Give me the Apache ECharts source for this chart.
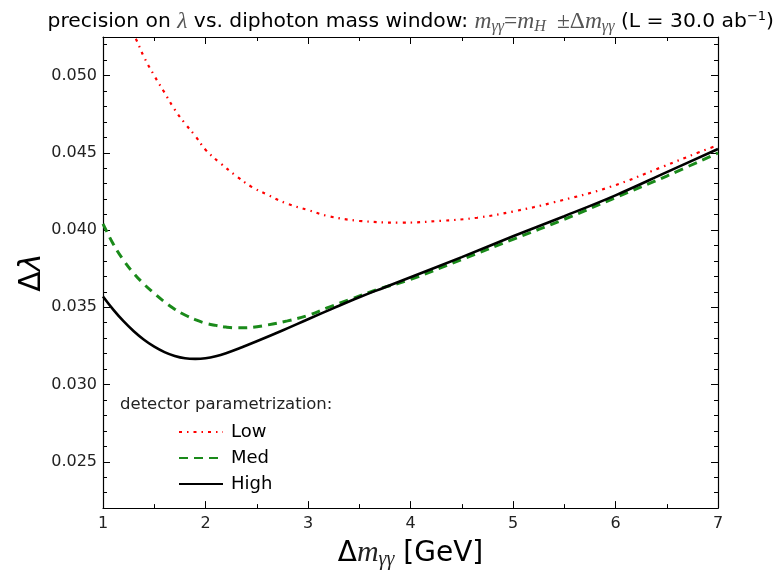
<!DOCTYPE html>
<html>
<head>
<meta charset="utf-8">
<script src="https://cdn.jsdelivr.net/npm/echarts@6/dist/echarts.min.js"></script>
<style>html,body{margin:0;padding:0;background:#fff;}#c{width:777px;height:575px;}</style>
</head>
<body>
<div id="c"></div>
<script>
// ---- data ----
const lowX  = [1.0, 1.1, 1.2, 1.32, 1.4, 1.5, 1.6, 1.7, 1.8, 1.9, 2.0, 2.15, 2.3, 2.45, 2.6, 2.8, 3.0, 3.2, 3.5, 3.9, 4.3, 4.65, 5.0, 5.4, 5.95, 6.46, 6.82, 7.0];
const lowY  = [0.0576, 0.0557, 0.0540, 0.0524, 0.0512, 0.0500, 0.0489, 0.0478, 0.0469, 0.0461, 0.0452, 0.0443, 0.0435, 0.0428, 0.0423, 0.0417, 0.0413, 0.0409, 0.0406, 0.04048, 0.0406, 0.0408, 0.0412, 0.0418, 0.0428, 0.0441, 0.04505, 0.0455];
const medX  = [1.0, 1.1, 1.2, 1.3, 1.4, 1.5, 1.6, 1.7, 1.8, 1.9, 2.0, 2.1, 2.2, 2.3, 2.4, 2.6, 2.8, 3.0, 3.2, 3.4, 3.7, 4.0, 4.5, 5.0, 5.5, 6.0, 6.5, 7.0];
const medY  = [0.0404, 0.0391, 0.03805, 0.0372, 0.0365, 0.0359, 0.03535, 0.03488, 0.0345, 0.0342, 0.03397, 0.03383, 0.03372, 0.03367, 0.03368, 0.03385, 0.03412, 0.03448, 0.0350, 0.03548, 0.0362, 0.0368, 0.0381, 0.0394, 0.0407, 0.0421, 0.0435, 0.0450];
const highX = [1.0, 1.1, 1.2, 1.3, 1.4, 1.5, 1.6, 1.7, 1.8, 1.9, 2.0, 2.1, 2.2, 2.35, 2.5, 2.75, 3.0, 3.25, 3.5, 3.75, 4.0, 4.5, 5.0, 5.5, 6.0, 6.5, 7.0];
const highY = [0.0357, 0.03485, 0.0341, 0.03345, 0.0329, 0.03245, 0.0321, 0.03185, 0.0317, 0.03166, 0.0317, 0.03183, 0.03203, 0.0324, 0.0328, 0.0335, 0.03423, 0.03495, 0.03565, 0.0363, 0.03695, 0.03825, 0.0396, 0.0409, 0.04225, 0.04375, 0.04525];
const seriesNames = ['Low', 'Med', 'High'];
const yMajorTicks = [0.025, 0.030, 0.035, 0.040, 0.045, 0.050];
const xMin = 1, xMax = 7;
const yMin = 0.022, yMax = 0.0525;

const zip = (xs, ys) => xs.map((x, i) => [x, ys[i]]);
const yMinorTicks = [];
for (let k = 22; k <= 52; k++) yMinorTicks.push(k / 1000);

const chart = echarts.init(document.getElementById('c'), null, {renderer: 'canvas'});
const sans = 'DejaVu Sans';
const serif = 'Liberation Serif';
const axisLineStyle = {color: '#000', width: 1.2};

const yBase = {type: 'value', min: yMin, max: yMax, splitLine: {show: false}};
const xBase = {type: 'value', min: xMin, max: xMax, interval: 1, splitLine: {show: false}};

chart.setOption({
  animation: false,
  backgroundColor: '#fff',
  title: {
    right: -2, top: 4,
    text: '{t|precision on }{mi|λ}{t| vs. diphoton mass window: }{mi|m}{sub|γγ}{mr|=}{mi|m}{sub|H}{pm|±Δ}{mi|m}{sub|γγ}{t| (L = 30.0 ab}{sup|−1}{t|)}',
    textStyle: {
      fontWeight: 'normal',
      rich: {
        t: {fontFamily: sans, fontSize: 20.3, fontWeight: 'normal', color: '#000', lineHeight: 25},
        mi: {fontFamily: serif, fontStyle: 'italic', fontSize: 23.5, color: '#555', lineHeight: 25},
        mr: {fontFamily: serif, fontSize: 23.5, color: '#555', lineHeight: 25},
        pm: {fontFamily: serif, fontSize: 23.5, color: '#555', lineHeight: 25, padding: [0, 0, 0, 11]},
        sub: {fontFamily: serif, fontStyle: 'italic', fontSize: 16, color: '#555', lineHeight: 16, padding: [10, 0, 0, 0]},
        sup: {fontFamily: sans, fontSize: 13, fontWeight: 'normal', color: '#000', lineHeight: 13, padding: [0, 0, 10, 0]}
      }
    }
  },
  grid: {left: 103, right: 59, top: 37, bottom: 61, containLabel: false},
  legend: {
    orient: 'vertical', left: 173, top: 418,
    itemWidth: 44, itemHeight: 14, itemGap: 8,
    data: seriesNames,
    itemStyle: {color: 'rgba(0,0,0,0)', borderWidth: 0, opacity: 0},
    textStyle: {fontFamily: sans, fontSize: 18, color: '#000', padding: [0, 0, 0, 3]}
  },
  graphic: [{
    type: 'text', left: 120, top: 396,
    style: {text: 'detector parametrization:', font: '16.5px "DejaVu Sans"', fill: '#222'}
  }],
  xAxis: [
    Object.assign({}, xBase, {
      position: 'bottom',
      axisLine: {show: true, onZero: false, lineStyle: axisLineStyle},
      axisTick: {show: true, inside: true, length: 7, lineStyle: {color: '#000'}},
      minorTick: {show: true, splitNumber: 2, length: 4, lineStyle: {color: '#000'}},
      axisLabel: {fontFamily: sans, fontSize: 16, color: '#222', margin: 8},
      name: '{d|Δ}{mi|m}{sub|γγ}{t| [GeV]}',
      nameLocation: 'middle', nameGap: 21,
      nameTextStyle: {
        rich: {
          d: {fontFamily: sans, fontSize: 28, color: '#000', lineHeight: 32},
          mi: {fontFamily: serif, fontStyle: 'italic', fontSize: 30, color: '#222', lineHeight: 32},
          sub: {fontFamily: serif, fontStyle: 'italic', fontSize: 20, color: '#222', lineHeight: 20, padding: [13, 0, 0, 0]},
          t: {fontFamily: sans, fontSize: 28, color: '#000', lineHeight: 32}
        }
      }
    }),
    Object.assign({}, xBase, {
      position: 'top',
      axisLine: {show: true, onZero: false, lineStyle: axisLineStyle},
      axisTick: {show: true, inside: true, length: 7, lineStyle: {color: '#000'}},
      minorTick: {show: true, splitNumber: 2, length: 4, lineStyle: {color: '#000'}},
      axisLabel: {show: false}
    })
  ],
  yAxis: [
    Object.assign({}, yBase, {
      position: 'left',
      axisLine: {show: true, onZero: false, lineStyle: axisLineStyle},
      axisTick: {show: true, inside: true, length: 7, customValues: yMajorTicks, lineStyle: {color: '#000'}},
      axisLabel: {customValues: yMajorTicks, formatter: v => v.toFixed(3), fontFamily: sans, fontSize: 16, color: '#222', margin: 6},
      name: '{d|Δ}{l|λ}',
      nameLocation: 'middle', nameGap: 56, nameRotate: 90, nameMoveOverlap: false,
      nameTextStyle: {
        rich: {
          d: {fontFamily: sans, fontSize: 30, color: '#000'},
          l: {fontFamily: sans, fontStyle: 'italic', fontSize: 30, color: '#000'}
        }
      }
    }),
    Object.assign({}, yBase, {
      position: 'left',
      axisLine: {show: false, onZero: false},
      axisTick: {show: true, inside: true, length: 4, customValues: yMinorTicks, lineStyle: {color: '#000'}},
      axisLabel: {show: false}
    }),
    Object.assign({}, yBase, {
      position: 'right',
      axisLine: {show: true, onZero: false, lineStyle: axisLineStyle},
      axisTick: {show: true, inside: true, length: 7, customValues: yMajorTicks, lineStyle: {color: '#000'}},
      axisLabel: {show: false}
    }),
    Object.assign({}, yBase, {
      position: 'right',
      axisLine: {show: false, onZero: false},
      axisTick: {show: true, inside: true, length: 4, customValues: yMinorTicks, lineStyle: {color: '#000'}},
      axisLabel: {show: false}
    })
  ],
  series: [
    {name: 'Low', type: 'line', data: zip(lowX, lowY), smooth: 0.4, symbol: 'none', clip: true,
     lineStyle: {color: '#ff0000', width: 2.2, type: [3, 5, 1.5, 5]}, itemStyle: {color: '#ff0000'}},
    {name: 'Med', type: 'line', data: zip(medX, medY), smooth: 0.4, symbol: 'none', clip: true,
     lineStyle: {color: '#1a8a1a', width: 3, type: [9, 6]}, itemStyle: {color: '#1a8a1a'}},
    {name: 'High', type: 'line', data: zip(highX, highY), smooth: 0.4, symbol: 'none', clip: true,
     lineStyle: {color: '#000', width: 2.6, type: 'solid'}, itemStyle: {color: '#000'}}
  ]
});
</script>
</body>
</html>
